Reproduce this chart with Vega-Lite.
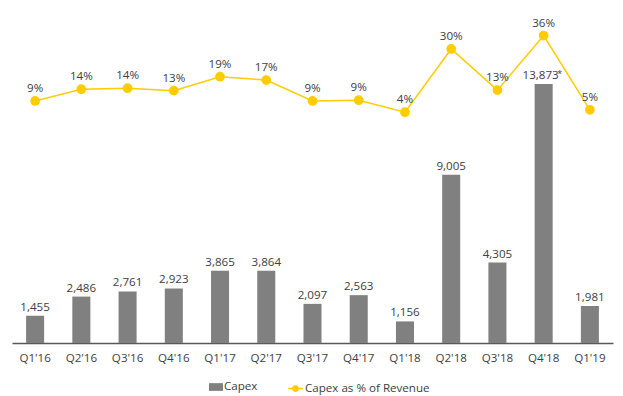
{
  "$schema": "https://vega.github.io/schema/vega-lite/v6.json",
  "autosize": {"type": "none"},
  "width": 601,
  "height": 323,
  "padding": {"left": 12, "top": 20, "right": 10, "bottom": 53},
  "background": "white",
  "config": {
    "view": {"stroke": null},
    "font": "Open Sans",
    "text": {"font": "Open Sans", "fontSize": 11.6, "color": "#404040"}
  },
  "data": {
    "values": [
      {"q": "Q1'16", "capex": 1455, "capexLabel": "1,455", "pct": 8.7, "pctLabel": "9%"},
      {"q": "Q2'16", "capex": 2486, "capexLabel": "2,486", "pct": 13.6, "pctLabel": "14%"},
      {"q": "Q3'16", "capex": 2761, "capexLabel": "2,761", "pct": 14.0, "pctLabel": "14%"},
      {"q": "Q4'16", "capex": 2923, "capexLabel": "2,923", "pct": 13.0, "pctLabel": "13%"},
      {"q": "Q1'17", "capex": 3865, "capexLabel": "3,865", "pct": 18.8, "pctLabel": "19%"},
      {"q": "Q2'17", "capex": 3864, "capexLabel": "3,864", "pct": 17.4, "pctLabel": "17%"},
      {"q": "Q3'17", "capex": 2097, "capexLabel": "2,097", "pct": 8.7, "pctLabel": "9%"},
      {"q": "Q4'17", "capex": 2563, "capexLabel": "2,563", "pct": 9.0, "pctLabel": "9%"},
      {"q": "Q1'18", "capex": 1156, "capexLabel": "1,156", "pct": 4.0, "pctLabel": "4%"},
      {"q": "Q2'18", "capex": 9005, "capexLabel": "9,005", "pct": 30.4, "pctLabel": "30%"},
      {"q": "Q3'18", "capex": 4305, "capexLabel": "4,305", "pct": 13.2, "pctLabel": "13%"},
      {"q": "Q4'18", "capex": 13873, "capexLabel": "13,873", "pct": 36.0, "pctLabel": "36%", "star": true},
      {"q": "Q1'19", "capex": 1981, "capexLabel": "1,981", "pct": 5.0, "pctLabel": "5%"}
    ]
  },
  "encoding": {
    "x": {
      "field": "q",
      "type": "nominal",
      "sort": null,
      "scale": {"paddingInner": 0.61, "paddingOuter": 0.305},
      "axis": {
        "title": null,
        "labelAngle": 0,
        "ticks": false,
        "labelPadding": 9,
        "labelFont": "Open Sans",
        "labelFontSize": 11.6,
        "labelColor": "#404040",
        "domainColor": "#595959",
        "domainWidth": 1.5,
        "grid": false
      }
    }
  },
  "layer": [
    {
      "encoding": {
        "y": {
          "field": "capex",
          "type": "quantitative",
          "scale": {"domain": [0, 17300], "nice": false, "zero": true},
          "axis": null
        }
      },
      "layer": [
        {
          "mark": {"type": "bar", "color": "#808080"},
          "encoding": {
            "fill": {
              "datum": "Capex",
              "type": "nominal",
              "scale": {"domain": ["Capex"], "range": ["#808080"]},
              "legend": {
                "title": null,
                "orient": "none",
                "legendX": 197,
                "legendY": 360,
                "symbolType": "M-1,-0.55H1V0.55H-1Z",
                "symbolSize": 196,
                "symbolStrokeWidth": 0,
                "labelOffset": 1,
                "labelFont": "Open Sans",
                "labelFontSize": 11.6,
                "labelColor": "#404040"
              }
            }
          }
        },
        {
          "transform": [{"filter": "!datum.star"}],
          "mark": {"type": "text", "baseline": "bottom", "dy": -3},
          "encoding": {"text": {"field": "capexLabel"}}
        },
        {
          "transform": [{"filter": "datum.star"}],
          "mark": {"type": "text", "baseline": "bottom", "dy": -3, "dx": -3},
          "encoding": {"text": {"field": "capexLabel"}}
        },
        {
          "transform": [{"filter": "datum.star"}],
          "mark": {"type": "text", "baseline": "bottom", "dy": -5, "dx": 16, "fontSize": 9, "text": "*"}
        }
      ]
    },
    {
      "encoding": {
        "y": {
          "field": "pct",
          "type": "quantitative",
          "scale": {"domain": [-92.4, 42.5], "nice": false, "zero": false},
          "axis": null
        }
      },
      "layer": [
        {
          "mark": {
            "type": "line",
            "strokeWidth": 1.5,
            "point": {"filled": true, "size": 60, "color": "#FFCC00"}
          },
          "encoding": {
            "stroke": {
              "datum": "Capex as % of Revenue",
              "type": "nominal",
              "scale": {"domain": ["Capex as % of Revenue"], "range": ["#FFCC00"]},
              "legend": {
                "title": null,
                "orient": "none",
                "legendX": 275,
                "legendY": 360,
                "symbolType": "M-1,0H1M0.35,0A0.35,0.35 0 1,1 -0.35,0A0.35,0.35 0 1,1 0.35,0Z",
                "symbolSize": 225,
                "symbolStrokeWidth": 1.5,
                "symbolFillColor": "#FFCC00",
                "labelOffset": 1,
                "labelFont": "Open Sans",
                "labelFontSize": 11.6,
                "labelColor": "#404040"
              }
            }
          }
        },
        {
          "mark": {"type": "text", "baseline": "bottom", "dy": -7},
          "encoding": {"text": {"field": "pctLabel"}}
        }
      ]
    }
  ],
  "resolve": {"scale": {"y": "independent"}}
}
